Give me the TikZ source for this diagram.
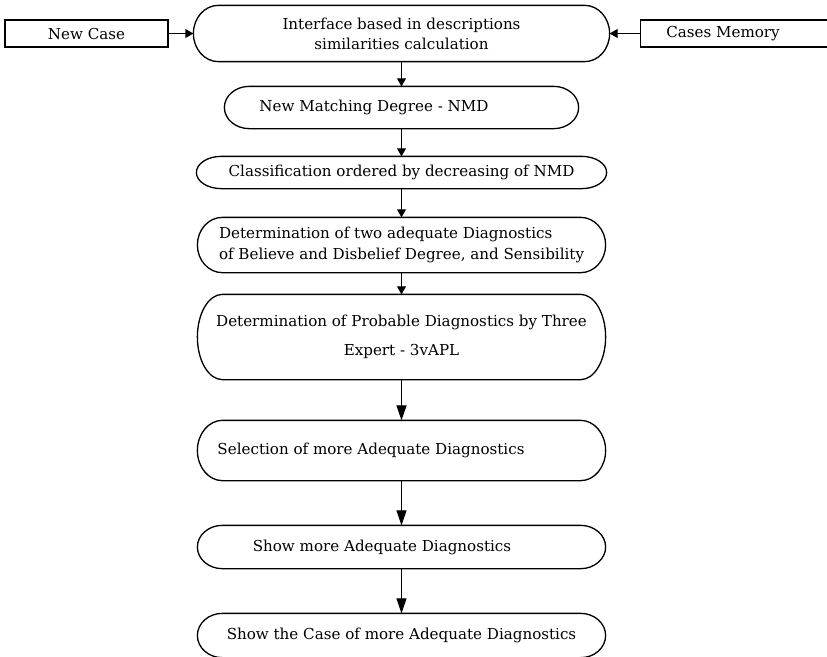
\documentclass[tikz,border=0pt]{standalone}
\usepackage{fontspec}
\setmainfont{DejaVu Serif}
\usetikzlibrary{arrows.meta,calc}

\begin{document}
\begin{tikzpicture}
[x=0.02cm, y=-0.02cm, font=\fontsize{8.6}{11.5}\selectfont, line width=0.75pt,
box/.style={rectangle, draw, line width=0.6pt, inner sep=0pt, minimum height=0.54cm},
step0/.style={rectangle, inner sep=0pt, minimum width=8.14cm, align=center},
arr/.style={-{Triangle[length=4.5pt,width=5pt]}, line width=0.6pt},
bigarr/.style={-{Triangle[length=8.5pt,width=5.7pt]}, line width=0.6pt}
]
\useasboundingbox (0,0) rectangle (827,656);

% inputs
\node[box, minimum width=3.26cm] (newcase) at (86.5,33.5) {New Case};
\node[box, minimum width=4cm] (memory) at (740,33.5) {Cases Memory\hspace*{0.68cm}};

% steps
\node[step0, minimum width=8.3cm, minimum height=1.1cm] (iface) at (401.5,33.5)
  {Interface based in descriptions\\ similarities calculation};
\node[step0, minimum width=7.06cm, minimum height=0.82cm] (nmd) at (401.5,107.5)
  {New Matching Degree - NMD\hspace*{1.1cm}};
\node[step0, minimum width=8.18cm, minimum height=0.62cm] (order) at (401.5,172.5)
  {Classification ordered by decreasing of NMD};
\node[step0, minimum height=1.08cm, align=left] (twodiag) at (401.5,245)
  {Determination of two adequate Diagnostics\\ of Believe and Disbelief Degree, and Sensibility};
\node[step0, minimum height=1.68cm] (probable) at (401.5,337)
  {Determination of Probable Diagnostics by Three\\[5pt] Expert - 3vAPL};
\node[step0, minimum height=1.18cm] (select) at (401.5,450.5)
  {Selection of more Adequate Diagnostics\hspace*{1.22cm}};
\node[step0, minimum height=0.84cm] (show) at (401.5,547)
  {Show more Adequate Diagnostics\hspace*{0.78cm}};
\node[step0, minimum height=0.86cm] (showcase) at (401.5,635.5)
  {Show the Case of more Adequate Diagnostics};

% flattened round ends
\foreach \b in {iface,nmd,order,twodiag,probable,select,show,showcase}
  \draw let \p1=(\b.north), \p2=(\b.south), \n1={(\y1-\y2)/2} in
    ([xshift=0.5cm]\b.north west) -- ([xshift=-0.5cm]\b.north east)
    arc[start angle=90, end angle=-90, x radius=0.5cm, y radius=\n1]
    -- ([xshift=0.5cm]\b.south west)
    arc[start angle=270, end angle=90, x radius=0.5cm, y radius=\n1] -- cycle;

\draw[arr] (newcase) -- (iface);
\draw[arr] (memory) -- (iface);
\draw[arr] (iface) -- (nmd);
\draw[arr] (nmd) -- (order);
\draw[arr] (order) -- (twodiag);
\draw[arr] (twodiag) -- (probable);
\draw[bigarr] (probable) -- (select);
\draw[bigarr] (select) -- (show);
\draw[bigarr] (show) -- (showcase);
\end{tikzpicture}
\end{document}
